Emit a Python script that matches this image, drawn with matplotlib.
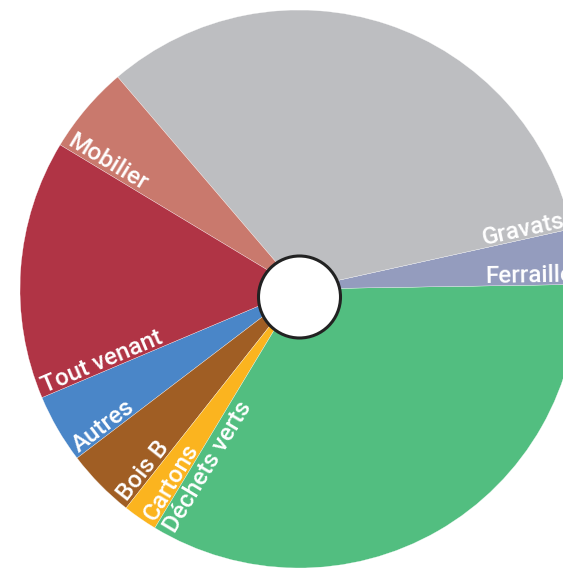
import numpy as np
import matplotlib
matplotlib.use("Agg")
import matplotlib.pyplot as plt
from matplotlib.patches import Circle

# share of each waste stream (%)
categories = ["Autres", "Bois B", "Cartons", "Déchets verts",
              "Ferraille", "Gravats", "Mobilier", "Tout venant"]
values = [4.0, 4.0, 2.0, 33.9, 3.2, 32.8, 5.1, 15.0]
colors = ["#4a86c8", "#a05e24", "#fbb41f", "#52be80",
          "#949cbe", "#bdbec1", "#c9796d", "#b03445"]

W, H = 563, 569
cx, cy, R = 299, H - 289, 279
start = 202.9

fig = plt.figure(figsize=(W / 100, H / 100), dpi=100)
ax = fig.add_axes([0, 0, 1, 1])

ax.pie(values, colors=colors, startangle=start, counterclock=True,
       radius=R, center=(cx, cy),
       wedgeprops=dict(linewidth=0.2, edgecolor="white"))

# donut hole
ax.add_patch(Circle((299.5, H - 297), 41, facecolor="white",
                    edgecolor="#222222", linewidth=2.2, zorder=5))

# labels laid along a slice edge, near the rim
total = sum(values)
a0 = start
for name, v in zip(categories, values):
    a1 = a0 + v / total * 360
    mid = np.radians((a0 + a1) / 2)
    if np.cos(mid) > 0:
        phi, side = a0, 1    # slice sits counter-clockwise of the edge
    else:
        phi, side = a1, -1
    p = np.radians(phi)
    right = np.cos(p) > 0
    rot = phi if right else phi - 180
    up = side * (1 if right else -1)
    r = R - 5
    x = cx + r * np.cos(p)
    y = cy + r * np.sin(p)
    off = 3 * up
    x += off * -np.sin(np.radians(rot))
    y += off * np.cos(np.radians(rot))
    ax.text(x, y, name, rotation=rot % 360, rotation_mode="anchor",
            ha="right" if right else "left",
            va="baseline" if up > 0 else "top",
            color="white", fontsize=17.5, family="Roboto", weight="medium",
            zorder=6)
    a0 = a1

ax.set_xlim(0, W)
ax.set_ylim(0, H)
ax.set_aspect("equal")
ax.axis("off")

fig.savefig("out.png", dpi=100)
